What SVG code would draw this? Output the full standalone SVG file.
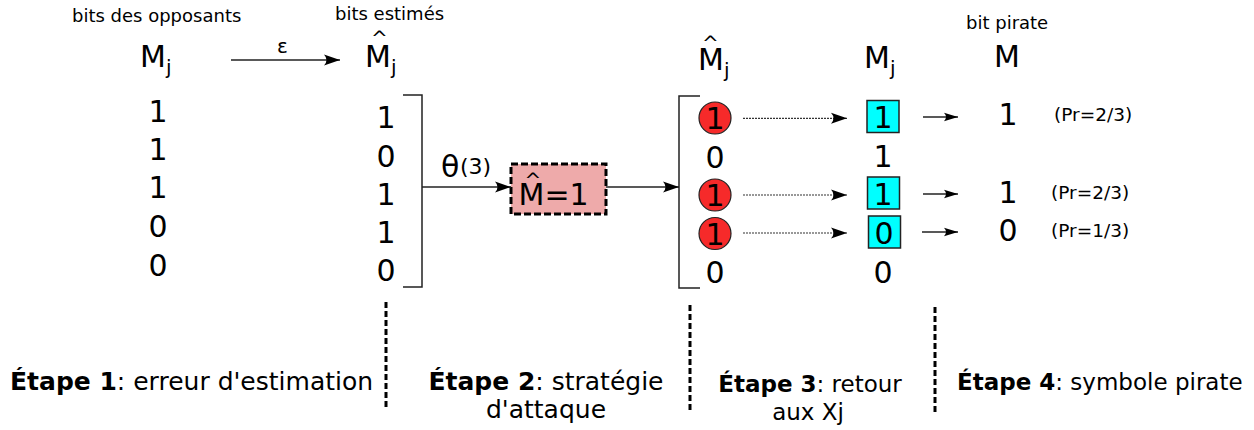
<svg xmlns="http://www.w3.org/2000/svg" width="1254" height="430" viewBox="0 0 1254 430">
<style>
text{font-family:"DejaVu Sans","Liberation Sans",sans-serif;fill:#000}
.sm{font-size:18px}
.big{font-size:30px}
.mid{text-anchor:middle}
.sub{font-size:20px}
.hat{font-size:20px}
.b{font-weight:bold}
.pr{font-size:18.5px}
.ln{stroke:#222;stroke-width:1.3;fill:none}
.dot{stroke:#333;stroke-width:1.2;stroke-dasharray:2 1;fill:none}
.br{stroke:#222;stroke-width:1.5;fill:none}
.sep{stroke:#000;stroke-width:3;stroke-dasharray:6 3;fill:none}
.red{fill:#f62a2a;stroke:#222;stroke-width:1.2}
.cy{fill:#00ffff;stroke:#222;stroke-width:1.5}
</style>
<defs>
<marker id="ah" markerUnits="userSpaceOnUse" markerWidth="20" markerHeight="14" refX="16" refY="6" orient="auto">
<path d="M16,6 L0,0.5 Q5,6 0,11.5 Z" fill="#000"/>
</marker>
<marker id="ahs" markerUnits="userSpaceOnUse" markerWidth="18" markerHeight="12" refX="14" refY="5" orient="auto">
<path d="M14,5 L0,0.8 Q4,5 0,9.2 Z" fill="#000"/>
</marker>
</defs>

<g id="titles">
<text class="sm" x="72" y="22">bits des opposants</text>
<text class="sm" x="335" y="20">bits estimés</text>
<text class="sm" x="966" y="29">bit pirate</text>
</g>

<g id="colA">
<text class="big" x="140" y="67">M<tspan class="sub" dy="7">j</tspan></text>
<text class="big mid" x="158" y="122">1</text>
<text class="big mid" x="158" y="160">1</text>
<text class="big mid" x="158" y="198">1</text>
<text class="big mid" x="158" y="237">0</text>
<text class="big mid" x="158" y="276">0</text>
</g>

<g id="colB">
<text class="big" x="365" y="67">M<tspan class="hat" x="371" y="44.5">^</tspan><tspan class="sub" x="391" y="74">j</tspan></text>
<text class="big mid" x="386" y="128">1</text>
<text class="big mid" x="386" y="166.5">0</text>
<text class="big mid" x="386" y="205">1</text>
<text class="big mid" x="386" y="243">1</text>
<text class="big mid" x="386" y="281">0</text>
<path class="br" d="M403,95 H422 V287 H403"/>
</g>

<g id="theta">
<text x="441" y="177" style="font-size:30px">θ<tspan x="460" y="174" style="font-size:22px">(3)</tspan></text>
</g>

<g id="strategy">
<rect x="511" y="164" width="95" height="50" fill="#eeaaaa" stroke="#000" stroke-width="3" stroke-dasharray="7 3"/>
<text class="big" x="518.5" y="205">M<tspan class="hat" x="524.5" y="186.5">^</tspan><tspan x="544.4" y="205">=1</tspan></text>
</g>

<g id="colC">
<path class="br" d="M700,96 H679 V288 H700"/>
<text class="big" x="698" y="70">M<tspan class="hat" x="702" y="49.5">^</tspan><tspan class="sub" x="724" y="77">j</tspan></text>
<circle class="red" cx="715" cy="118" r="16"/>
<circle class="red" cx="715" cy="195" r="16"/>
<circle class="red" cx="715" cy="233.5" r="16"/>
<text class="big mid" x="715" y="129">1</text>
<text class="big mid" x="715" y="167.5">0</text>
<text class="big mid" x="715" y="206">1</text>
<text class="big mid" x="715" y="244.5">1</text>
<text class="big mid" x="715" y="283">0</text>
</g>

<g id="colD">
<text class="big" x="864" y="68">M<tspan class="sub" dy="7">j</tspan></text>
<rect class="cy" x="867" y="100.5" width="32" height="32"/>
<rect class="cy" x="867.5" y="177" width="32" height="32"/>
<rect class="cy" x="868.5" y="216" width="32" height="32"/>
<text class="big mid" x="883" y="128">1</text>
<text class="big mid" x="883" y="167">1</text>
<text class="big mid" x="883" y="205">1</text>
<text class="big mid" x="884" y="244">0</text>
<text class="big mid" x="883" y="283">0</text>
</g>

<g id="colE">
<text class="big" x="994" y="67">M</text>
<text class="big mid" x="1008" y="125">1</text>
<text class="big mid" x="1008" y="203">1</text>
<text class="big mid" x="1008" y="241">0</text>
<text class="pr" x="1054" y="121">(Pr=2/3)</text>
<text class="pr" x="1051" y="199">(Pr=2/3)</text>
<text class="pr" x="1051" y="237">(Pr=1/3)</text>
</g>

<g id="connectors">
<line class="ln" x1="231" y1="60" x2="340" y2="60" marker-end="url(#ah)"/>
<text x="277" y="53" style="font-size:20px">ε</text>
<line class="ln" x1="422" y1="187" x2="511" y2="187" marker-end="url(#ah)"/>
<line class="ln" x1="606" y1="187" x2="679" y2="187" marker-end="url(#ah)"/>
<line class="dot" x1="743" y1="118.3" x2="847" y2="118.3" marker-end="url(#ah)"/>
<line class="dot" x1="743" y1="195" x2="847" y2="195" marker-end="url(#ah)"/>
<line class="dot" x1="743" y1="233" x2="847" y2="233" marker-end="url(#ah)"/>
<line class="ln" x1="923" y1="117" x2="958" y2="117" marker-end="url(#ahs)"/>
<line class="ln" x1="923" y1="194" x2="958" y2="194" marker-end="url(#ahs)"/>
<line class="ln" x1="922" y1="232" x2="958" y2="232" marker-end="url(#ahs)"/>
</g>

<g id="separators">
<line class="sep" x1="386" y1="302" x2="386" y2="410"/>
<line class="sep" x1="690" y1="305" x2="690" y2="412"/>
<line class="sep" x1="935" y1="307" x2="935" y2="412"/>
</g>

<g id="steps">
<text x="10" y="390" style="font-size:25px"><tspan class="b">Étape 1</tspan>: erreur d'estimation</text>
<text class="mid" x="546" y="390" style="font-size:25px"><tspan class="b">Étape 2</tspan>: stratégie</text>
<text class="mid" x="546" y="418" style="font-size:25px">d'attaque</text>
<text class="mid" x="810" y="392" style="font-size:23px"><tspan class="b">Étape 3</tspan>: retour</text>
<text class="mid" x="808" y="420" style="font-size:23px">aux Xj</text>
<text x="957" y="390" style="font-size:23px"><tspan class="b">Étape 4</tspan>: symbole pirate</text>
</g>
</svg>
